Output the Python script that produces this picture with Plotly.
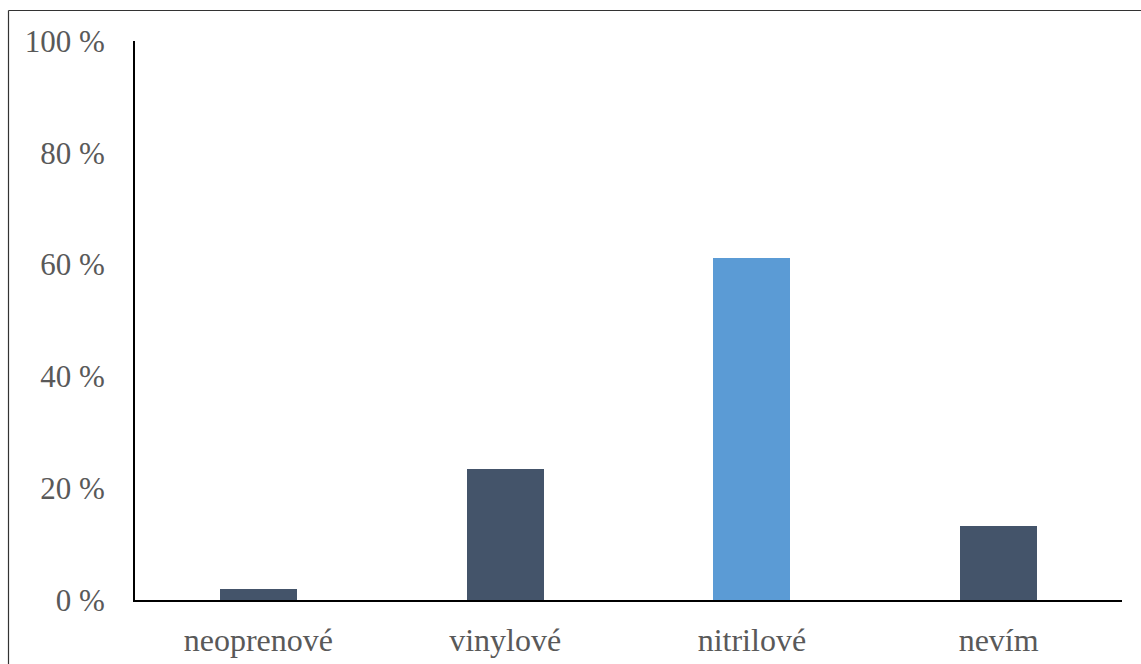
import plotly.graph_objects as go

categories = ["neoprenové", "vinylové", "nitrilové", "nevím"]
values = [2.0, 23.4, 61.2, 13.3]
colors = ["#44546a", "#44546a", "#5b9bd5", "#44546a"]
y_ticks = [0, 20, 40, 60, 80, 100]

W, H = 1141, 664
L, R, T, B = 135, 19, 41, 64

fig = go.Figure(go.Bar(
    x=categories, y=values, marker_color=colors, width=0.312,
    marker_line_width=0,
))

pw = W - L - R
ph = H - T - B

def px_x(x):
    return (x - L) / pw

def px_y(y):
    return (H - B - y) / ph

serif = "Times New Roman, Liberation Serif, serif"

fig.update_layout(
    template="none",
    width=W, height=H,
    margin=dict(l=L, r=R, t=T, b=B, pad=0, autoexpand=False),
    paper_bgcolor="white", plot_bgcolor="white",
    font=dict(family=serif, size=30, color="#595959"),
    showlegend=False,
    bargap=0,
    xaxis=dict(
        range=[-0.5, 3.5], showline=True, linecolor="black", linewidth=2,
        showgrid=False, zeroline=False, ticks="", ticklabelstandoff=11,
        tickfont=dict(family=serif, size=32, color="#595959"),
        automargin=False, fixedrange=True,
    ),
    yaxis=dict(
        range=[0, 100], tickvals=y_ticks, ticktext=[f"{v} %" for v in y_ticks],
        showline=True, linecolor="black", linewidth=2,
        showgrid=False, zeroline=False, ticks="", ticklabelstandoff=22,
        tickfont=dict(family=serif, size=31, color="#595959"),
        automargin=False, fixedrange=True,
    ),
    shapes=[
        dict(type="line", xref="paper", yref="paper",
             x0=px_x(8.5), x1=px_x(W + 5), y0=px_y(10.5), y1=px_y(10.5),
             line=dict(color="#333333", width=1.2)),
        dict(type="line", xref="paper", yref="paper",
             x0=px_x(8.5), x1=px_x(8.5), y0=px_y(10.5), y1=px_y(H + 5),
             line=dict(color="#333333", width=1.2)),
    ],
)

fig.write_html(
    "out.html",
    config={"displayModeBar": False},
    post_script="document.body.style.margin='0';document.body.style.overflow='hidden';",
)
